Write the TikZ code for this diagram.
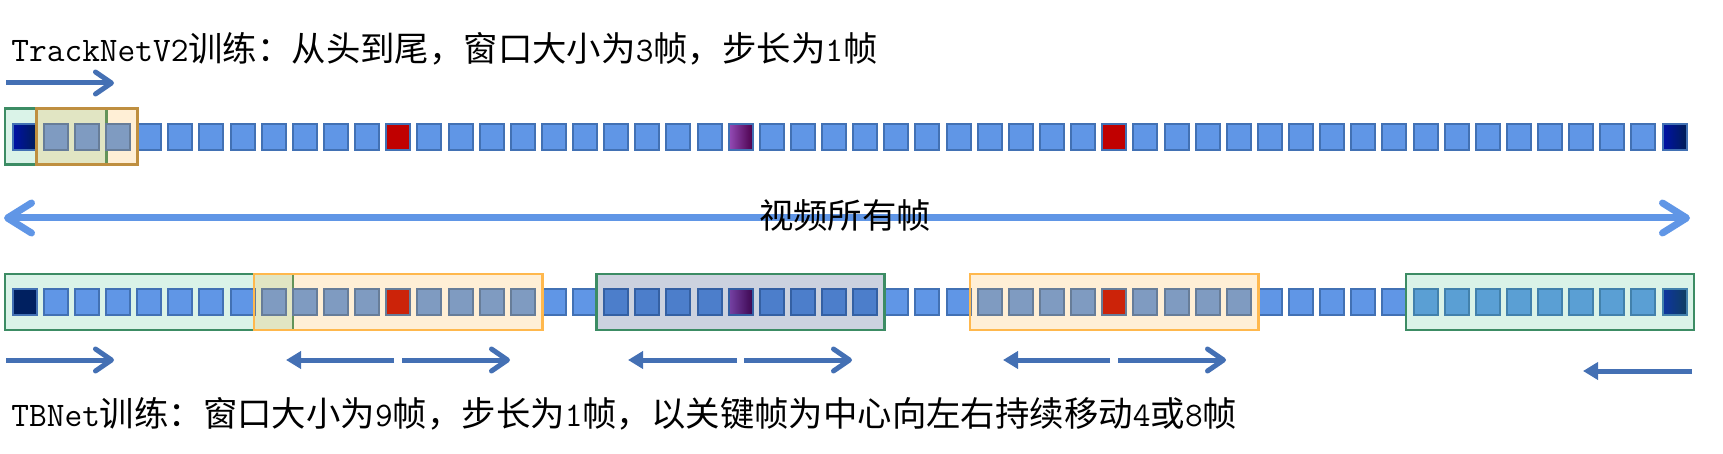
\documentclass[tikz,border=0pt]{standalone}
\usepackage{fontspec}
\newfontfamily\zhfont{Noto Sans CJK SC}
\newcommand{\zh}[1]{{\zhfont #1}}
\newcommand{\en}[1]{{\ttfamily #1}}
\usetikzlibrary{positioning, fit, backgrounds, arrows.meta}
\definecolor{frameblue}{HTML}{6096E6}
\definecolor{frameedge}{HTML}{4271B4}
\definecolor{keynavy}{HTML}{002060}
\definecolor{keyred}{HTML}{C00000}
\definecolor{greenfill}{HTML}{DAF3E8}
\definecolor{greenedge}{HTML}{3C8C64}
\definecolor{amberfill}{HTML}{FFB030}
\definecolor{amberedge}{HTML}{FFB84D}
\definecolor{ambertop}{HTML}{BF8F40}
\definecolor{tealfill}{HTML}{46C38C}
\definecolor{arrowblue}{HTML}{4470B4}
\tikzset{
	framenode/.style={
			shape=rectangle,
			draw=frameedge,
			fill=frameblue,
			line width=1pt,
			minimum width=12pt,
			minimum height=13pt,
			inner sep=0pt
		},
	keydark/.style={
			framenode,
			left color=blue!45!keynavy,
			right color=keynavy!90!black
		},
	keypurple/.style={
			framenode,
			left color=violet!80!blue!70!white,
			right color=violet!60!black
		},
	keyflat/.style={
			framenode,
			fill=#1
		}
}
\tikzset{
	windowbox/.style={
			shape=rectangle,
			line width=1.25pt,
			inner xsep=3.25pt,
			inner ysep=7pt
		},
	greenbox/.style={
			windowbox,
			draw=greenedge,
			fill=greenfill
		},
	amberbox/.style={
			windowbox,
			draw=amberedge,
			fill=amberfill,
			fill opacity=0.2
		},
	navybox/.style={
			windowbox,
			draw=greenedge,
			fill=keynavy,
			fill opacity=0.2
		},
	tealbox/.style={
			windowbox,
			draw=greenedge,
			fill=tealfill,
			fill opacity=0.2
		}
}
\tikzset{
	labeltext/.style={inner sep=0pt, font=\fontsize{17.2pt}{20pt}\selectfont},
	rarrow/.style={draw=arrowblue, line width=2.5pt, -{Straight Barb[length=8pt,width=11pt,round]}},
	larrow/.style={draw=arrowblue, line width=2.5pt, -{Triangle[length=7.5pt,width=8.5pt]}},
	bigarrow/.style={draw=frameblue, line width=3.5pt, {Straight Barb[length=12pt,width=15pt,round]}-{Straight Barb[length=12pt,width=15pt,round]}}
}

\begin{document}
\begin{tikzpicture}[x=0.5pt, y=-0.5pt]
  \useasboundingbox (0,0) rectangle (1723,454);

  % frames of the whole video, one row per training scheme
  \foreach \i in {1,...,54} {
    \node[framenode] (t\i) at ({24.7+31.13*(\i-1)},136.7) {};
    \node[framenode] (b\i) at ({24.7+31.13*(\i-1)},302) {};
  }

  % key frames
  \node[keydark] (t1) at (t1) {};
  \node[keyflat=keyred] (t13) at (t13) {};
  \node[keypurple] (t24) at (t24) {};
  \node[keyflat=keyred] (t36) at (t36) {};
  \node[keydark] (t54) at (t54) {};
  \node[keyflat=keynavy] (b1) at (b1) {};
  \node[keyflat=keyred] (b13) at (b13) {};
  \node[keypurple] (b24) at (b24) {};
  \node[keyflat=keyred] (b36) at (b36) {};
  \node[keydark] (b54) at (b54) {};

  % windows
  \begin{scope}[on background layer]
    \node[greenbox, fit=(t1)(t3)] (g1) {};
    \node[greenbox, fit=(b1)(b9)] (g2) {};
  \end{scope}
  \node[amberbox, draw=ambertop, fit=(t2)(t4)] (w1) {};
  \node[amberbox, fit=(b9)(b17)] (w2) {};
  \node[navybox, fit=(b20)(b28)] (w3) {};
  \node[amberbox, fit=(b32)(b40)] (w4) {};
  \node[tealbox, fit=(b46)(b54)] (g3) {};

  % moving directions
  \coordinate (ta) at (6,83);    \coordinate (tb) at (114,83);
  \coordinate (s1) at (6,360);   \coordinate (s2) at (114,360);
  \coordinate (s3) at (394,360); \coordinate (s4) at (286,360);
  \coordinate (s5) at (402,360); \coordinate (s6) at (510,360);
  \coordinate (s7) at (737,360); \coordinate (s8) at (628,360);
  \coordinate (s9) at (744,360); \coordinate (s10) at (852,360);
  \coordinate (s11) at (1110,360); \coordinate (s12) at (1003,360);
  \coordinate (s13) at (1118,360); \coordinate (s14) at (1226,360);
  \coordinate (s15) at (1692,371); \coordinate (s16) at (1583,371);
  \draw[rarrow] (ta) -- (tb);
  \draw[rarrow] (s1) -- (s2);
  \draw[larrow] (s3) -- (s4);
  \draw[rarrow] (s5) -- (s6);
  \draw[larrow] (s7) -- (s8);
  \draw[rarrow] (s9) -- (s10);
  \draw[larrow] (s11) -- (s12);
  \draw[rarrow] (s13) -- (s14);
  \draw[larrow] (s15) -- (s16);

  % all frames
  \coordinate (va) at (4,218);
  \coordinate (vb) at (1690,218);
  \draw[bigarrow] (va) -- (vb);
  \node[labeltext, anchor=base] (vlabel) at (845,228) {\zh{视频所有帧}};

  \node[labeltext, anchor=base west] (tlabel) at (11,62)
    {\en{TrackNetV2}\zh{训练：从头到尾，窗口大小为}\en{3}\zh{帧，步长为}\en{1}\zh{帧}};
  \node[labeltext, anchor=base west] (blabel) at (11,426)
    {\en{TBNet}\zh{训练：窗口大小为}\en{9}\zh{帧，步长为}\en{1}\zh{帧，以关键帧为中心向左右持续移动}\en{4}\zh{或}\en{8}\zh{帧}};

\end{tikzpicture}
\end{document}
